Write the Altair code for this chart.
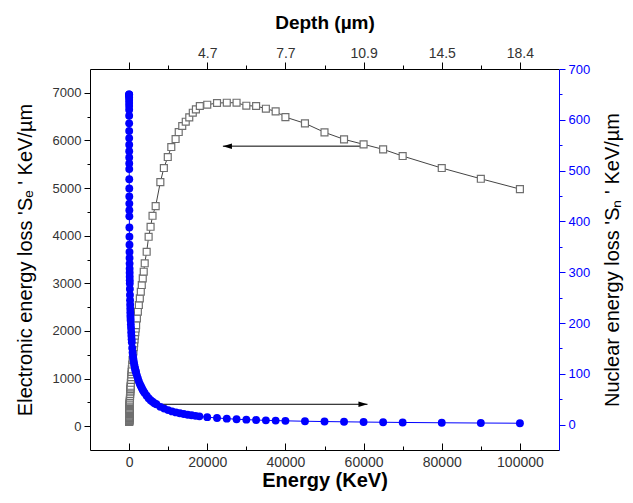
import altair as alt
import pandas as pd

# ---------------- data ----------------
# Electronic energy loss Se (open squares), keV/um vs energy (keV)
e_energy = [10, 11, 12, 13, 14, 15, 16, 17, 18, 20, 22.5, 25, 27.5, 30, 32.5, 35, 37.5, 40,
            45, 50, 55, 60, 65, 70, 80, 90, 100, 110, 120, 130, 140, 150, 160, 170, 180,
            200, 225, 250, 275, 300, 325, 350, 375, 400, 450, 500, 550, 600, 650, 700,
            800, 900, 1000, 1100, 1200, 1300, 1400, 1500, 1600, 1700, 1800, 2000, 2250,
            2500, 2750, 3000, 3250, 3500, 3750, 4000, 4500, 5000, 5500, 6000, 6800, 8000,
            8900, 9900, 10800, 11900, 12700, 13600, 14500, 15400, 16300, 17100, 18100,
            20000, 22500, 25000, 27500, 30000, 32500, 35000, 37500, 40000, 45000, 50000,
            55000, 60000, 65000, 70000, 80000, 90000, 100000]
e_loss = [89, 95, 100, 105, 110, 114, 119, 124, 128, 137, 147, 156, 166, 175, 183, 192, 200, 208,
          224, 239, 253, 267, 280, 293, 318, 341, 364, 386, 407, 427, 447, 466, 485, 503, 521,
          556, 597, 637, 675, 712, 748, 782, 816, 848, 911, 972, 1030, 1086, 1140, 1193,
          1295, 1391, 1483, 1572, 1658, 1741, 1821, 1900, 1976, 2050, 2123, 2264, 2403,
          2544, 2684, 2823, 2964, 3105, 3244, 3420, 3662, 3977, 4187, 4418, 4622, 5126,
          5420, 5651, 5861, 6029, 6176, 6303, 6393, 6485, 6582, 6653, 6723,
          6750, 6786, 6792, 6792, 6729, 6723, 6666, 6611, 6490, 6359, 6170,
          6023, 5918, 5813, 5672, 5420, 5195, 4979]

# Nuclear energy loss Sn (filled circles), keV/um vs energy (keV)
n_energy = [10, 11, 12, 13, 14, 15, 16, 17, 18, 20, 22.5, 25, 27.5, 30, 32.5, 35, 37.5, 40,
            45, 50, 55, 60, 65, 70, 80, 90, 100, 110, 120, 130, 140, 150, 160, 170, 180,
            200, 225, 250, 275, 300, 325, 350, 375, 400, 450, 500, 550, 600, 650, 700,
            800, 900, 1000, 1100, 1200, 1300, 1400, 1500, 1600, 1700, 1800, 2000, 2250,
            2500, 2750, 3000, 3250, 3500, 3750, 4000, 4500, 5000, 5500, 6000, 6500, 7000,
            8000, 9000, 10000, 11000, 12000, 13000, 14000, 15000, 16000, 17000, 18000,
            20000, 22500, 25000, 27500, 30000, 32500, 35000, 37500, 40000, 45000, 50000,
            55000, 60000, 65000, 70000, 80000, 90000, 100000]
n_loss = [650, 650, 649, 647, 644, 639, 633, 627, 620, 608, 593, 578, 564, 551, 538, 526, 514, 503,
          483, 465, 449, 435, 422, 410, 388, 370, 354, 340, 328, 317, 307, 299, 291, 284, 278,
          267, 255, 245, 236, 228, 221, 215, 210, 205, 197, 190, 182, 175, 168, 162,
          151, 142, 135, 129, 124, 119, 115, 111, 108, 105, 102, 97, 91,
          85, 80, 76, 72, 68, 65, 62, 57, 52, 48, 45, 42, 40,
          35, 31.5, 28.5, 26, 24, 22.3, 20.8, 19.5, 18.3, 17.2, 16.3,
          14.6, 13.0, 11.7, 10.6, 9.7, 9.0, 8.4, 7.9, 7.4, 6.6, 6.0,
          5.5, 5.0, 4.6, 4.2, 3.6, 3.1, 2.7]

# axis tick values / labels
bottom_ticks = [0, 20000, 40000, 60000, 80000, 100000]
bottom_minor = [10000, 30000, 50000, 70000, 90000]
depth_labels = ["", "4.7", "7.7", "10.9", "14.5", "18.4"]
se_ticks = [0, 1000, 2000, 3000, 4000, 5000, 6000, 7000]
se_minor = [500, 1500, 2500, 3500, 4500, 5500, 6500]
sn_ticks = [0, 100, 200, 300, 400, 500, 600, 700]
sn_minor = [50, 150, 250, 350, 450, 550, 650]

# annotation arrows (energy start, energy end, Se level)
arrow_start = [60000, 7000]
arrow_end = [24000, 61000]
arrow_level = [5880, 460]
arrow_head = ["left", "right"]

# ---------------- styling ----------------
FONT = "Liberation Sans"
BLUE = "#0000ff"
X_DOM = [-10000, 110000]
SE_DOM = [-500, 7500]
SN_DOM = [-50, 700]

edf = pd.DataFrame({"E": e_energy, "Se": e_loss})
ndf = pd.DataFrame({"E": n_energy, "Sn": n_loss})
adf = pd.DataFrame({"xs": arrow_start, "xe": arrow_end, "y": arrow_level, "head": arrow_head})
dummy = pd.DataFrame({"E": [0], "v": [0]})


def xscale():
    return alt.Scale(domain=X_DOM, nice=False, zero=False)


def sescale():
    return alt.Scale(domain=SE_DOM, nice=False, zero=False)


def snscale():
    return alt.Scale(domain=SN_DOM, nice=False, zero=False)


ax_bottom = alt.Axis(orient="bottom", values=bottom_ticks, format="d", ticks=False, tickSize=0,
                     domain=True, domainColor="black", grid=False, labelFlush=False,
                     labelFont=FONT, labelFontSize=14, labelColor="#333333", labelPadding=5,
                     title="Energy (KeV)", titleFont=FONT, titleFontSize=20, titleFontWeight="bold",
                     titleColor="black", titlePadding=1)
ax_left = alt.Axis(orient="left", values=se_ticks, format="d", tickSize=6, tickColor="black",
                   domain=True, domainColor="black", grid=False, labelFlush=False,
                   labelFont=FONT, labelFontSize=13, labelColor="#333333", labelPadding=3,
                   title="Electronic energy loss 'Sₑ ' KeV/µm", titleFont=FONT, titleFontSize=20,
                   titleFontWeight="normal", titleColor="black", titlePadding=17)

top_expr = " : ".join(
    f"datum.value == {v} ? '{l}'" for v, l in zip(bottom_ticks, depth_labels)
) + " : ''"
ax_top = alt.Axis(orient="top", values=bottom_ticks, labelExpr=top_expr, tickSize=7, tickColor="black",
                  domain=True, domainColor="black", grid=False, labelFlush=False,
                  labelFont=FONT, labelFontSize=14, labelColor="#333333", labelPadding=2,
                  title="Depth (µm)", titleFont=FONT, titleFontSize=19, titleFontWeight="bold",
                  titleColor="black", titlePadding=14)
ax_right = alt.Axis(orient="right", values=sn_ticks, format="d", tickSize=6, tickColor=BLUE,
                    domain=True, domainColor=BLUE, grid=False, labelFlush=False,
                    labelFont=FONT, labelFontSize=13, labelColor=BLUE, labelPadding=3,
                    title="Nuclear energy loss 'Sₙ ' KeV/µm", titleFont=FONT, titleFontSize=20,
                    titleFontWeight="normal", titleColor="black", titlePadding=13,
                    titleAngle=270, titleBaseline="top")

# ---- electronic layer (left axis, bottom axis) ----
ex = alt.X("E:Q", scale=xscale(), axis=ax_bottom)
e_line = alt.Chart(edf).mark_line(color="#444444", strokeWidth=1).encode(
    x=ex, y=alt.Y("Se:Q", scale=sescale(), axis=ax_left))
e_pts = alt.Chart(edf).mark_point(shape="square", size=48, filled=True, fill="white",
                                  stroke="#6f6f6f", strokeWidth=1.2, opacity=1).encode(
    x=ex, y=alt.Y("Se:Q", scale=sescale(), axis=ax_left))
arrow_lines = alt.Chart(adf).mark_rule(color="black", strokeWidth=1).encode(
    x=alt.X("xs:Q", scale=xscale(), axis=ax_bottom), x2="xe:Q",
    y=alt.Y("y:Q", scale=sescale(), axis=ax_left))
arrow_heads = alt.Chart(adf).mark_point(filled=True, color="black", size=330, opacity=1).encode(
    x=alt.X("xe:Q", scale=xscale(), axis=ax_bottom),
    y=alt.Y("y:Q", scale=sescale(), axis=ax_left),
    shape=alt.Shape("head:N", legend=None,
                    scale=alt.Scale(domain=["left", "right"],
                                    range=["M0,0L1,-0.3L1,0.3Z", "M0,0L-1,-0.3L-1,0.3Z"])))
layer_e = alt.layer(e_line, arrow_lines, e_pts, arrow_heads)

# ---- nuclear layer (right axis, top axis) ----
nx = alt.X("E:Q", scale=xscale(), axis=ax_top)
ny = alt.Y("Sn:Q", scale=snscale(), axis=ax_right)
n_line = alt.Chart(ndf).mark_line(color=BLUE, strokeWidth=1).encode(x=nx, y=ny)
n_pts = alt.Chart(ndf).mark_circle(color=BLUE, size=62, opacity=1).encode(x=nx, y=ny)
layer_n = alt.layer(n_line, n_pts)

# ---- minor / inward tick axes ----
minor_c = alt.Chart(dummy).mark_point(opacity=0).encode(
    x=alt.X("E:Q", scale=xscale(), axis=alt.Axis(orient="bottom", values=bottom_ticks, offset=-7,
                                                 tickSize=7, tickColor="black", labels=False,
                                                 domain=False, grid=False, title=None)),
    y=alt.Y("v:Q", scale=sescale(), axis=alt.Axis(orient="left", values=se_minor, tickSize=3,
                                                  tickColor="black", labels=False, domain=False,
                                                  grid=False, title=None)))
minor_d = alt.Chart(dummy).mark_point(opacity=0).encode(
    x=alt.X("E:Q", scale=xscale(), axis=alt.Axis(orient="bottom", values=bottom_minor, offset=-4,
                                                 tickSize=4, tickColor="black", labels=False,
                                                 domain=False, grid=False, title=None)),
    y=alt.Y("v:Q", scale=snscale(), axis=alt.Axis(orient="right", values=sn_minor, tickSize=3,
                                                  tickColor=BLUE, labels=False, domain=False,
                                                  grid=False, title=None)))
minor_e = alt.Chart(dummy).mark_point(opacity=0).encode(
    x=alt.X("E:Q", scale=xscale(), axis=alt.Axis(orient="top", values=bottom_minor,
                                                 tickSize=4, tickColor="black", labels=False,
                                                 domain=False, grid=False, title=None)),
    y=alt.Y("v:Q", scale=sescale(), axis=None))

chart = alt.layer(layer_e, layer_n, minor_c, minor_d, minor_e).resolve_scale(
    x="independent", y="independent"
).properties(
    width=469, height=381,
    autosize=alt.AutoSizeParams(type="none"),
    padding={"left": 82, "top": 61, "right": 66, "bottom": 45},
    background="white",
).configure_view(strokeWidth=0)

chart.save("out.html", embed_options={"renderer": "svg", "actions": False})
